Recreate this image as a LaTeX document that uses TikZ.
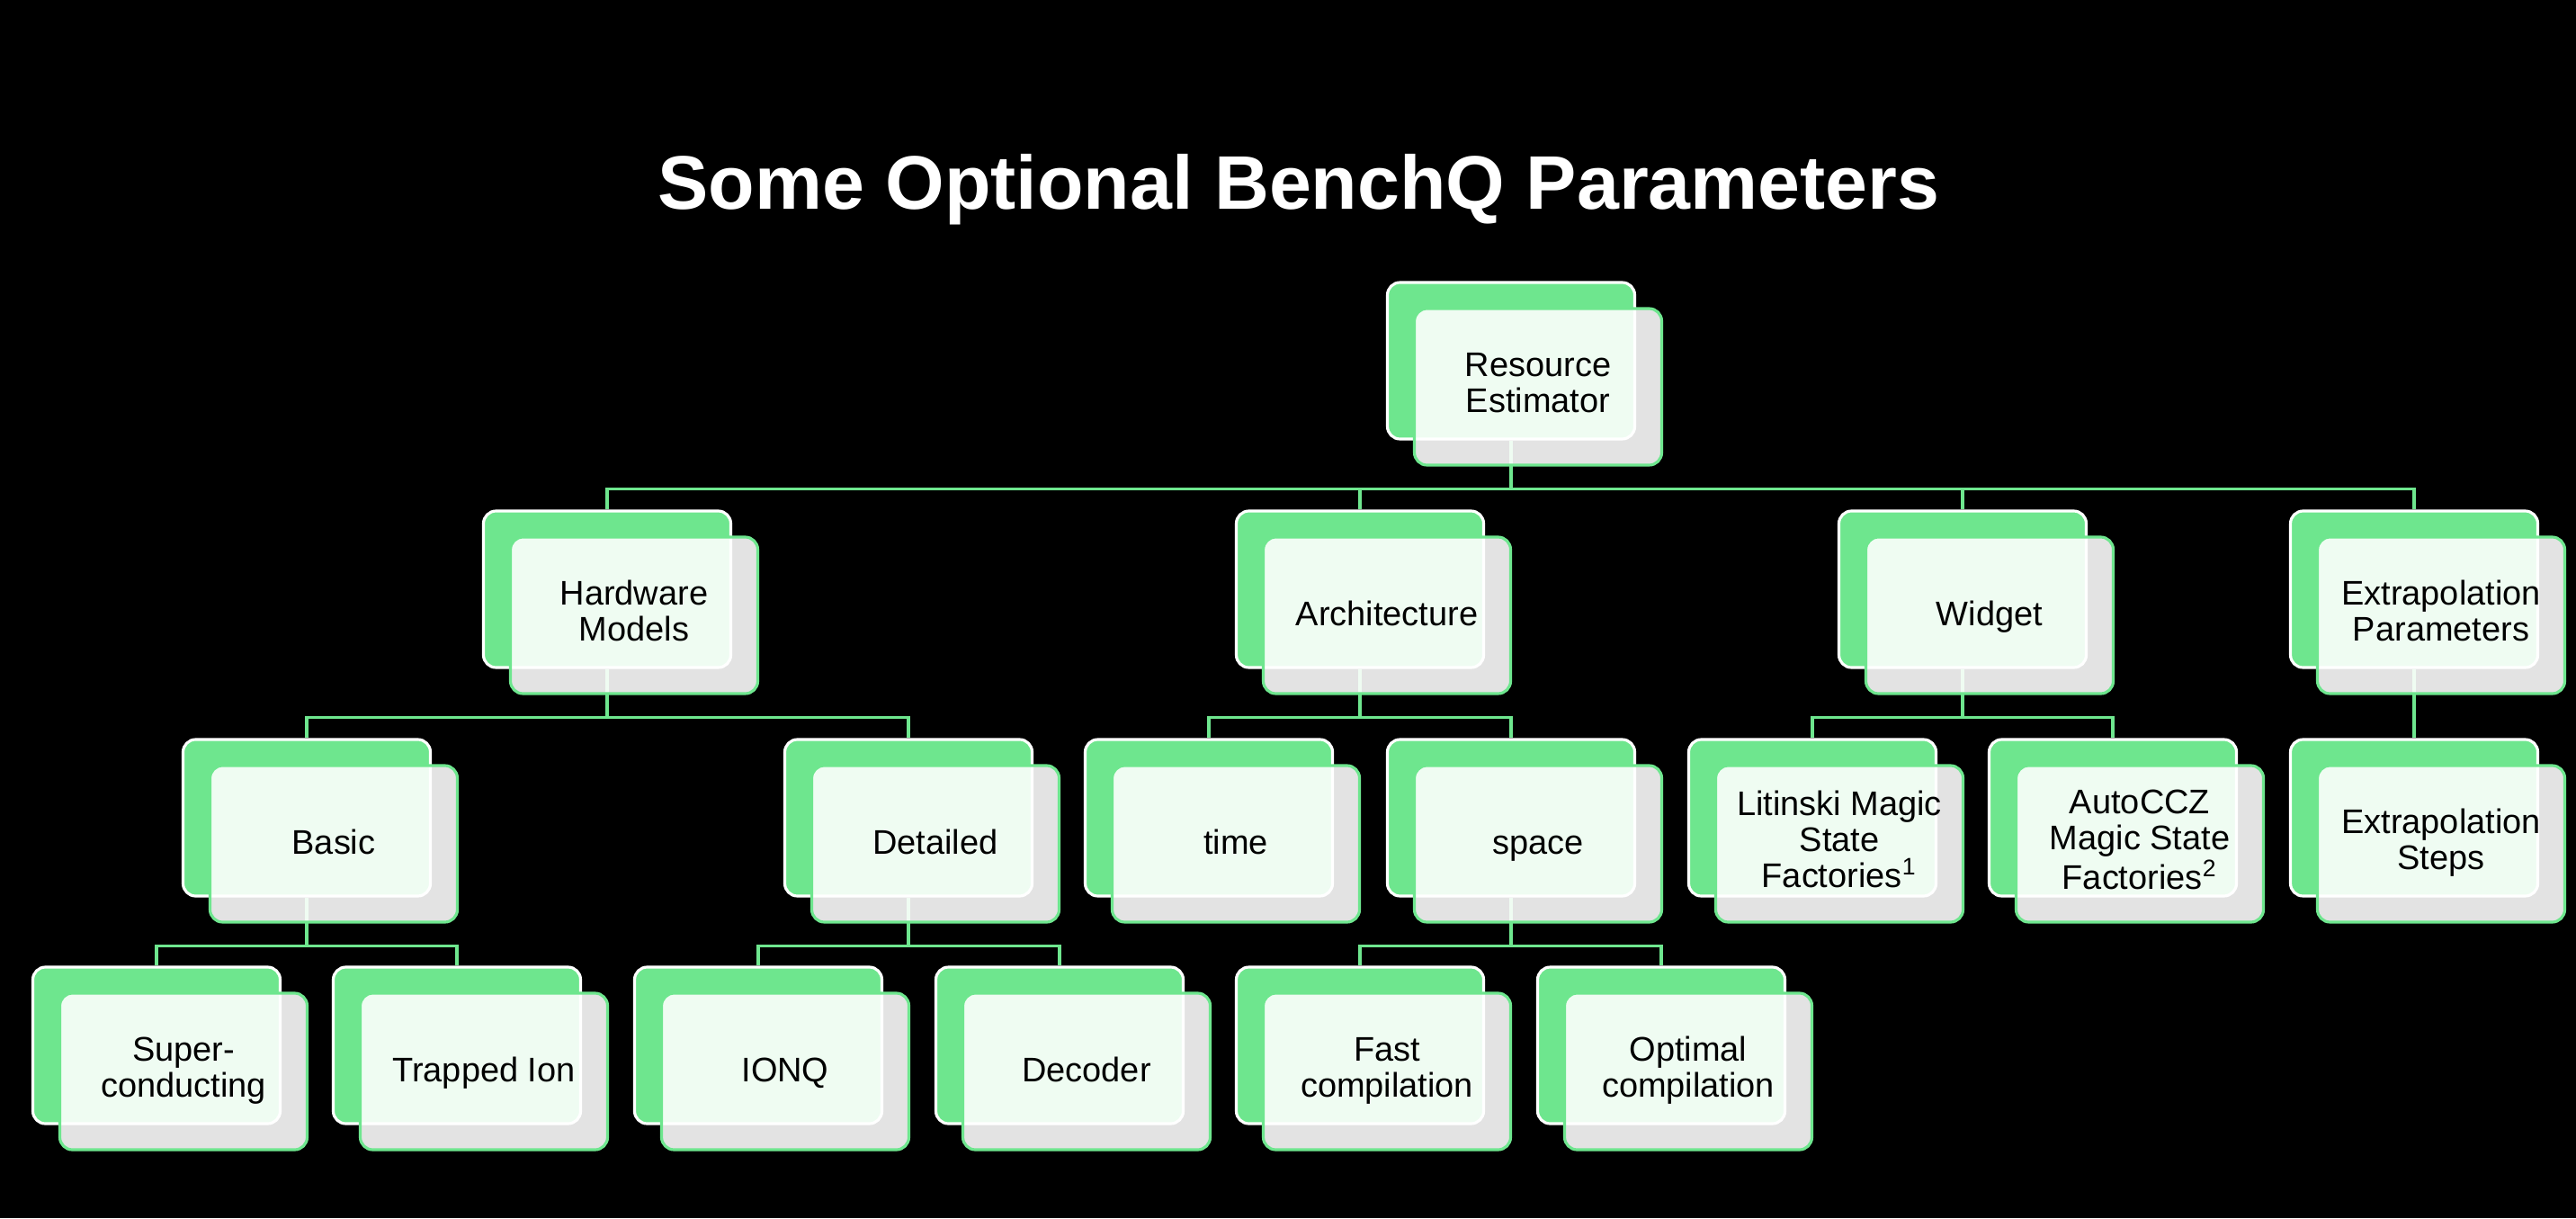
\documentclass[tikz,border=0pt]{standalone}
\usepackage{fontspec}
\setmainfont{Liberation Sans}
\usepackage{xcolor}
\usetikzlibrary{positioning,backgrounds,calc}
\definecolor{mint}{HTML}{6EE68E}
\definecolor{ink}{HTML}{000000}
\tikzset{
  backbox/.style={
    rectangle, rounded corners=0.14cm, draw=white, fill=mint, line width=0.9pt,
    minimum width=2.75cm, minimum height=1.74cm, inner sep=0pt
  },
  frontbox/.style={
    rectangle, rounded corners=0.14cm, draw=mint, fill=white, fill opacity=0.89,
    text opacity=1, line width=0.9pt, text=ink,
    minimum width=2.75cm, minimum height=1.74cm, inner sep=2pt,
    font=\fontsize{10.8}{11.4}\selectfont, align=center,
    execute at begin node=\rule{0pt}{9.5pt},
    execute at end node=\rule[-2.8pt]{0pt}{2.8pt}
  },
  link/.style={draw=mint, line width=0.9pt},
  titlenode/.style={font=\fontsize{24}{28}\selectfont\bfseries, text=white}
}

\begin{document}
\begin{tikzpicture}
  \useasboundingbox (0,0) rectangle (28.64,-13.54);
  \node[titlenode, anchor=base] (title) at (14.44,-2.32) {Some Optional BenchQ Parameters};

  % level 0
  \node[backbox] (root) at (16.80,-4.01) {};
  \node[frontbox] at ([xshift=0.3cm, yshift=-0.29cm]root.center) (rootf) {Resource\\Estimator};

  % level 1
  \node[backbox] (hw) at (6.75,-6.55) {};
  \node[frontbox] at ([xshift=0.3cm, yshift=-0.29cm]hw.center) (hwf) {Hardware\\Models};
  \node[backbox] (arch) at (15.12,-6.55) {};
  \node[frontbox] at ([xshift=0.3cm, yshift=-0.29cm]arch.center) (archf) {Architecture};
  \node[backbox] (widget) at (21.82,-6.55) {};
  \node[frontbox] at ([xshift=0.3cm, yshift=-0.29cm]widget.center) (widgetf) {Widget};
  \node[backbox] (extrap) at (26.84,-6.55) {};
  \node[frontbox] at ([xshift=0.3cm, yshift=-0.29cm]extrap.center) (extrapf) {Extrapolation\\Parameters};

  % level 2
  \node[backbox] (basic) at (3.41,-9.09) {};
  \node[frontbox] at ([xshift=0.3cm, yshift=-0.29cm]basic.center) (basicf) {Basic};
  \node[backbox] (detailed) at (10.10,-9.09) {};
  \node[frontbox] at ([xshift=0.3cm, yshift=-0.29cm]detailed.center) (detailedf) {Detailed};
  \node[backbox] (time) at (13.44,-9.09) {};
  \node[frontbox] at ([xshift=0.3cm, yshift=-0.29cm]time.center) (timef) {time};
  \node[backbox] (space) at (16.80,-9.09) {};
  \node[frontbox] at ([xshift=0.3cm, yshift=-0.29cm]space.center) (spacef) {space};
  \node[backbox] (litinski) at (20.15,-9.09) {};
  \node[frontbox] at ([xshift=0.3cm, yshift=-0.29cm]litinski.center) (litinskif) {Litinski Magic\\State\\Factories\textsuperscript{1}};
  \node[backbox] (autoccz) at (23.49,-9.09) {};
  \node[frontbox] at ([xshift=0.3cm, yshift=-0.29cm]autoccz.center) (autocczf) {AutoCCZ\\Magic State\\Factories\textsuperscript{2}};
  \node[backbox] (steps) at (26.84,-9.09) {};
  \node[frontbox] at ([xshift=0.3cm, yshift=-0.29cm]steps.center) (stepsf) {Extrapolation\\Steps};

  % level 3
  \node[backbox] (supercond) at (1.74,-11.62) {};
  \node[frontbox] at ([xshift=0.3cm, yshift=-0.29cm]supercond.center) (supercondf) {Super-\\conducting};
  \node[backbox] (trapped) at (5.08,-11.62) {};
  \node[frontbox] at ([xshift=0.3cm, yshift=-0.29cm]trapped.center) (trappedf) {Trapped Ion};
  \node[backbox] (ionq) at (8.43,-11.62) {};
  \node[frontbox] at ([xshift=0.3cm, yshift=-0.29cm]ionq.center) (ionqf) {IONQ};
  \node[backbox] (decoder) at (11.78,-11.62) {};
  \node[frontbox] at ([xshift=0.3cm, yshift=-0.29cm]decoder.center) (decoderf) {Decoder};
  \node[backbox] (fast) at (15.12,-11.62) {};
  \node[frontbox] at ([xshift=0.3cm, yshift=-0.29cm]fast.center) (fastf) {Fast\\compilation};
  \node[backbox] (optimal) at (18.47,-11.62) {};
  \node[frontbox] at ([xshift=0.3cm, yshift=-0.29cm]optimal.center) (optimalf) {Optimal\\compilation};

  \begin{scope}[on background layer]
    \fill[black] (0,0) rectangle (28.64,-13.54);
    % tree links, under the cards
    \draw[link] (root.south) -- ++(0,-0.54) -| (hw.north);
    \draw[link] (root.south) -- ++(0,-0.54) -| (arch.north);
    \draw[link] (root.south) -- ++(0,-0.54) -| (widget.north);
    \draw[link] (root.south) -- ++(0,-0.54) -| (extrap.north);
    \draw[link] (hw.south) -- ++(0,-0.54) -| (basic.north);
    \draw[link] (hw.south) -- ++(0,-0.54) -| (detailed.north);
    \draw[link] (arch.south) -- ++(0,-0.54) -| (time.north);
    \draw[link] (arch.south) -- ++(0,-0.54) -| (space.north);
    \draw[link] (widget.south) -- ++(0,-0.54) -| (litinski.north);
    \draw[link] (widget.south) -- ++(0,-0.54) -| (autoccz.north);
    \draw[link] (extrap.south) -- (steps.north);
    \draw[link] (basic.south) -- ++(0,-0.54) -| (supercond.north);
    \draw[link] (basic.south) -- ++(0,-0.54) -| (trapped.north);
    \draw[link] (detailed.south) -- ++(0,-0.54) -| (ionq.north);
    \draw[link] (detailed.south) -- ++(0,-0.54) -| (decoder.north);
    \draw[link] (space.south) -- ++(0,-0.54) -| (fast.north);
    \draw[link] (space.south) -- ++(0,-0.54) -| (optimal.north);
  \end{scope}
\end{tikzpicture}
\end{document}
